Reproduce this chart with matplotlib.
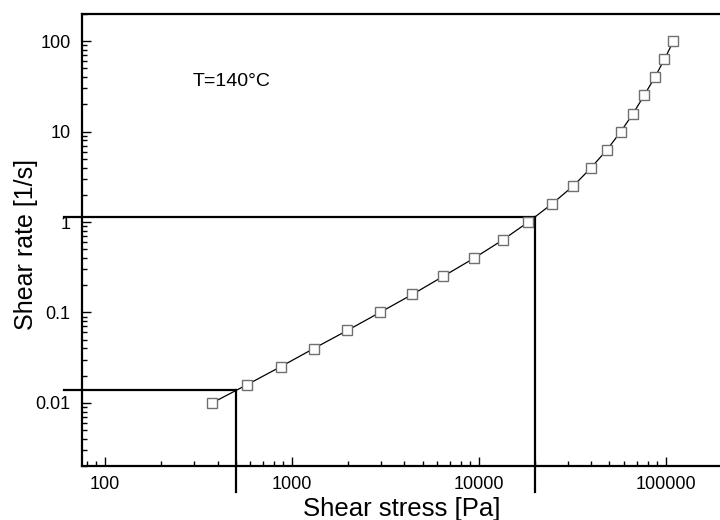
import matplotlib
matplotlib.use("Agg")
import matplotlib.pyplot as plt
from matplotlib.ticker import FixedLocator, LogLocator, NullFormatter, FuncFormatter

plt.rcParams['font.family'] = ['Liberation Sans', 'DejaVu Sans']

# flow curve
shear_stress = [375, 573, 871, 1306, 1977, 2958, 4405, 6456, 9424, 13390,
                18400, 24550, 32060, 39850, 48530, 57460, 66860, 76560, 87370, 98390,
                109900]
shear_rate = [0.01, 0.0158, 0.0251, 0.0398, 0.0631, 0.1, 0.158, 0.251, 0.398, 0.631,
              1.0, 1.58, 2.51, 3.98, 6.31, 10, 15.8, 25.1, 39.8, 63.1,
              100]

# guide lines: stress value / shear rate value
ref_stress = [500, 20000]
ref_rate = [0.014, 1.15]

x_ticks = [100, 1000, 10000, 100000]
y_ticks = [0.01, 0.1, 1, 10, 100]

fig = plt.figure(figsize=(7.2, 5.2), dpi=100)
ax = fig.add_axes([81.7 / 720, 54 / 520, 640.3 / 720, 452 / 520])
ax.set_xscale('log')
ax.set_yscale('log')
ax.set_xlim(75, 2e5)
ax.set_ylim(0.002, 200)

ax.plot(shear_stress, shear_rate, color='black', lw=0.9, marker='s', ms=7.2,
        mfc='white', mec='#707070', mew=1.0, zorder=3)

# guide lines that run past the axes
for xs, yr in zip(ref_stress, ref_rate):
    ax.plot([60, xs], [yr, yr], color='black', lw=1.6, clip_on=False, zorder=2)
    ax.plot([xs, xs], [0.00103, yr], color='black', lw=1.6, clip_on=False, zorder=2)

ax.text(0.174, 0.84, 'T=140°C', transform=ax.transAxes, fontsize=14)

ax.xaxis.set_major_locator(FixedLocator(x_ticks))
ax.yaxis.set_major_locator(FixedLocator(y_ticks))
ax.xaxis.set_minor_locator(LogLocator(base=10, subs=range(2, 10), numticks=20))
ax.yaxis.set_minor_locator(LogLocator(base=10, subs=range(2, 10), numticks=20))
ax.xaxis.set_minor_formatter(NullFormatter())
ax.yaxis.set_minor_formatter(NullFormatter())
fmt = FuncFormatter(lambda v, p: '%g' % v)
ax.xaxis.set_major_formatter(fmt)
ax.yaxis.set_major_formatter(fmt)

ax.tick_params(which='both', direction='in', top=False, right=False, width=1.0,
               labelsize=13)
ax.tick_params(which='major', length=6.5)
ax.tick_params(which='minor', length=3.5)
ax.tick_params(axis='x', pad=7)
ax.tick_params(axis='y', pad=8)

for s in ax.spines.values():
    s.set_linewidth(1.6)
ax.spines['right'].set_visible(False)

ax.set_xlabel('Shear stress [Pa]', fontsize=18.5, labelpad=3)
ax.set_ylabel('Shear rate [1/s]', fontsize=18)
ax.yaxis.set_label_coords(-0.069, 0.489)

fig.savefig('out.png', dpi=100)
